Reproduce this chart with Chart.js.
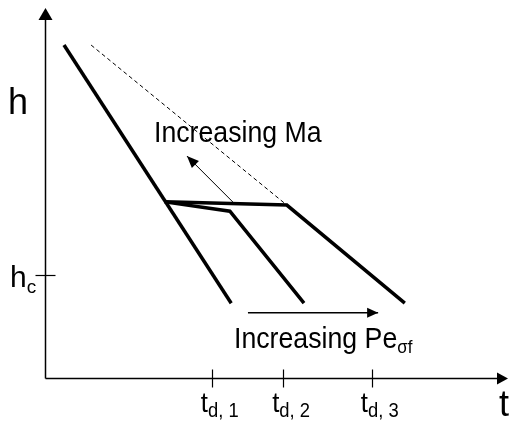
<!DOCTYPE html>
<html><head><meta charset="utf-8">
<script src="https://cdn.jsdelivr.net/npm/chart.js@4/dist/chart.umd.min.js"></script>
<style>html,body{margin:0;padding:0;background:#fff;overflow:hidden}#wrap{width:509px;height:421px}</style>
</head><body><div id="wrap"><canvas id="c" width="509" height="421"></canvas></div>
<script>
// Film thickness h against time t (arbitrary units, axes run 0..100)
const fastDrainage = [[4.2, 93.0], [41.2, 20.9]];
const midDrainage = [[26.5, 49.2], [40.9, 46.6], [57.3, 20.9]];
const slowDrainage = [[26.5, 49.2], [53.5, 48.3], [79.6, 20.9]];
const envelope = [[10.2, 93.0], [53.5, 48.3]];
const maArrow = [[42.0, 48.6], [31.4, 62.0]];
const peArrow = [[44.9, 18.2], [73.7, 18.2]];
const tickTimes = [36.9, 52.7, 72.3];
const tickSubs = ['d, 1', 'd, 2', 'd, 3'];
const criticalH = 28.8;

const FONT = '"Liberation Sans", Arial, Helvetica, sans-serif';
const pts = a => a.map(([x, y]) => ({ x, y }));

function line(data, width, extra) {
  return Object.assign({
    data: pts(data), showLine: true, borderColor: '#000', backgroundColor: '#000',
    borderWidth: width, pointRadius: 0, pointHoverRadius: 0, tension: 0,
    borderJoinStyle: 'miter', borderCapStyle: 'butt', fill: false, clip: false
  }, extra || {});
}

function arrowHead(ctx, tipX, tipY, fromX, fromY, len, half) {
  const a = Math.atan2(tipY - fromY, tipX - fromX);
  ctx.save();
  ctx.translate(tipX, tipY);
  ctx.rotate(a);
  ctx.beginPath();
  ctx.moveTo(0, 0);
  ctx.lineTo(-len, -half);
  ctx.lineTo(-len, half);
  ctx.closePath();
  ctx.fillStyle = '#000';
  ctx.fill();
  ctx.restore();
}

// main text with a lowered subscript; sx narrows the glyphs horizontally
function subText(ctx, x, y, main, mainSize, sub, subSize, subDrop, sx) {
  sx = sx || 1;
  ctx.save();
  ctx.translate(x, y);
  ctx.scale(sx, 1);
  ctx.font = mainSize + 'px ' + FONT;
  ctx.fillText(main, 0, 0);
  const w = ctx.measureText(main).width;
  if (sub) {
    ctx.font = subSize + 'px ' + FONT;
    ctx.fillText(sub, w, subDrop);
  }
  ctx.restore();
}

const decorations = {
  id: 'decorations',
  beforeDatasetsDraw(chart) {
    const { ctx, chartArea: ca, scales: { x, y } } = chart;
    ctx.save();
    ctx.strokeStyle = '#000';
    ctx.fillStyle = '#000';
    ctx.lineWidth = 1.5;
    const ox = Math.round(ca.left) + 0.5, oy = Math.round(ca.bottom) + 0.5;
    // axes
    ctx.beginPath();
    ctx.moveTo(ox, oy); ctx.lineTo(ox, ca.top);
    ctx.moveTo(ox, oy); ctx.lineTo(ca.right, oy);
    ctx.stroke();
    arrowHead(ctx, ox, ca.top - 12, ox, oy, 12, 7);
    arrowHead(ctx, ca.right + 11, oy, ox, oy, 11, 6);
    // time ticks
    ctx.lineWidth = 1.2;
    tickTimes.forEach(t => {
      const px = Math.round(x.getPixelForValue(t)) + 0.5;
      ctx.beginPath(); ctx.moveTo(px, oy - 9); ctx.lineTo(px, oy + 9); ctx.stroke();
    });
    // critical thickness tick
    const hy = Math.round(y.getPixelForValue(criticalH)) + 0.5;
    ctx.beginPath(); ctx.moveTo(ox - 10, hy); ctx.lineTo(ox + 10, hy); ctx.stroke();
    ctx.restore();
  },
  afterDatasetsDraw(chart) {
    const { ctx, scales: { x, y } } = chart;
    ctx.save();
    ctx.fillStyle = '#000';
    ctx.textBaseline = 'alphabetic';
    ctx.textAlign = 'left';
    // arrow heads on the annotation arrows
    [[maArrow, 12, 5], [peArrow, 11, 5]].forEach(([a, len, half]) => {
      const p0 = a[a.length - 2], p1 = a[a.length - 1];
      arrowHead(ctx, x.getPixelForValue(p1[0]), y.getPixelForValue(p1[1]),
        x.getPixelForValue(p0[0]), y.getPixelForValue(p0[1]), len, half);
    });
    // axis titles
    ctx.font = '36px ' + FONT;
    ctx.fillText('h', 8, 114);
    ctx.fillText('t', 499, 416);
    // h_c
    const hy = y.getPixelForValue(criticalH);
    subText(ctx, 10, hy + 12, 'h', 30, 'c', 19, 6);
    // time tick labels
    tickTimes.forEach((t, i) => {
      const px = x.getPixelForValue(t);
      subText(ctx, px - 11, 412, 't', 28, tickSubs[i], 20, 5, 0.92);
    });
    // annotations
    subText(ctx, 154, 142, 'Increasing Ma', 30, '', 0, 0, 0.89);
    subText(ctx, 234, 348, 'Increasing Pe', 30, '\u03C3f', 19, 5, 0.89);
    ctx.restore();
  }
};

new Chart(document.getElementById('c'), {
  type: 'scatter',
  data: {
    datasets: [
      line(fastDrainage, 3.5),
      line(midDrainage, 3.5),
      line(slowDrainage, 3.5),
      line(envelope, 1, { borderDash: [4, 3] }),
      line(maArrow, 1),
      line(peArrow, 1.5)
    ]
  },
  options: {
    responsive: false,
    devicePixelRatio: 1,
    animation: false,
    events: [],
    layout: { padding: { left: 45, top: 20, right: 12, bottom: 43 } },
    scales: {
      x: { type: 'linear', min: 0, max: 100, display: false },
      y: { type: 'linear', min: 0, max: 100, display: false }
    },
    plugins: { legend: { display: false }, tooltip: { enabled: false } }
  },
  plugins: [decorations]
});
</script>
</body></html>
